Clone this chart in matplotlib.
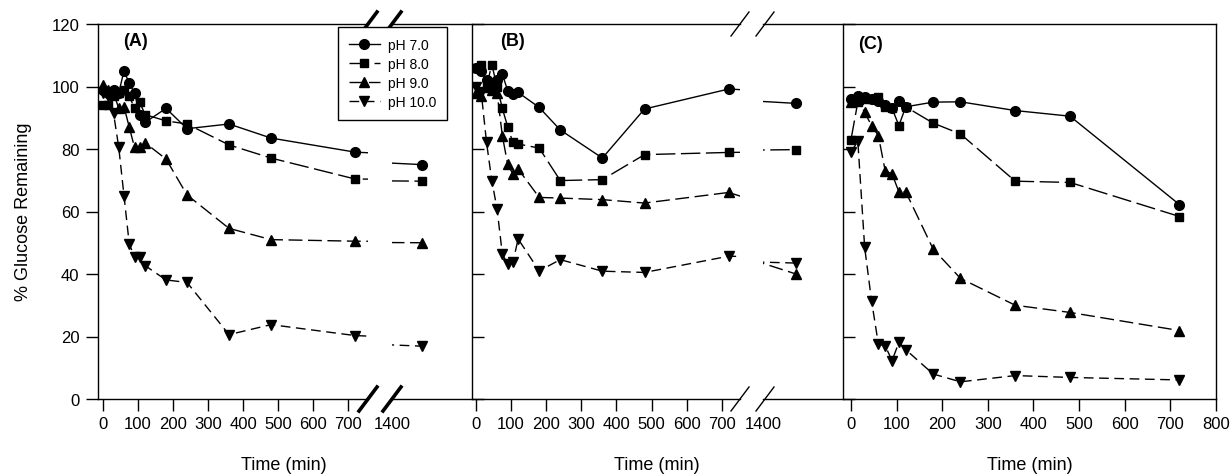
import matplotlib

matplotlib.use('Agg')
import matplotlib.pyplot as plt
from matplotlib.lines import Line2D

plt.rcParams['font.family'] = ['Liberation Sans', 'DejaVu Sans']

# 时间点 (min)
t_ab = [0, 15, 30, 45, 60, 75, 90, 105, 120, 180, 240, 360, 480, 720, 1440]
t_c = [0, 15, 30, 45, 60, 75, 90, 105, 120, 180, 240, 360, 480, 720]

labels = ['pH 7.0', 'pH 8.0', 'pH 9.0', 'pH 10.0']

# (A)
a_ph7 = [99, 98, 99, 98, 105, 101, 98, 91, 88.5, 93, 86.5, 88, 83.5, 79, 75]
a_ph8 = [94, 94, 97, 98, 99, 97, 93, 95, 91, 89, 88, 81.3, 77.1, 70.4, 69.7]
a_ph9 = [100.5, 99, 98, 93, 93.5, 87, 80.5, 80.5, 82, 76.8, 65.3, 54.6, 51, 50.5, 50]
a_ph10 = [98, 97, 91.5, 80.5, 65, 49.6, 45.5, 45.3, 42.7, 38.1, 37.3, 20.6, 23.8, 20.3, 16.9]

# (B)
b_ph7 = [106, 105, 102, 101, 102, 104, 98.7, 97.5, 98.1, 93.3, 86.1, 77.1, 92.8, 99.2, 94.6]
b_ph8 = [106, 107, 100, 107, 100, 93, 87.2, 82.1, 81.6, 80.3, 69.9, 70.2, 78.2, 78.9, 79.8]
b_ph9 = [98, 97, 100, 99, 98, 84.3, 75.2, 72, 73.6, 64.5, 64.3, 63.8, 62.7, 66.1, 40]
b_ph10 = [100, 98, 82.1, 69.9, 60.8, 46.4, 43.2, 43.7, 51.2, 41, 44.6, 40.9, 40.5, 45.7, 43.5]

# (C)
c_ph7 = [96, 97, 96.5, 96, 95.5, 94, 93, 95.5, 93.5, 95, 95.1, 92.3, 90.5, 62.2]
c_ph8 = [83, 95, 96, 96, 96.5, 93.3, 93, 87.5, 93.5, 88.3, 84.8, 69.7, 69.3, 58.4]
c_ph9 = [95, 96, 91.7, 87.5, 84.3, 73, 72, 66.3, 66.3, 48, 38.6, 30, 27.7, 21.9]
c_ph10 = [79, 82.5, 48.5, 31.5, 17.6, 17, 12.3, 18.1, 15.8, 8, 5.5, 7.5, 6.9, 6.1]

xticks_main = [0, 100, 200, 300, 400, 500, 600, 700]
xticks_c = [0, 100, 200, 300, 400, 500, 600, 700, 800]
yticks = [0, 20, 40, 60, 80, 100, 120]

styles = [
    dict(marker='o', ms=7, linestyle='-'),
    dict(marker='s', ms=6, dashes=(14, 4)),
    dict(marker='^', ms=7, dashes=(10, 4)),
    dict(marker='v', ms=7, dashes=(7, 4)),
]

W, H = 1231, 477
TICK_LEN = 8.5


def rect(x0, x1, y0=25, y1=400):
    """像素坐标 -> figure 坐标"""
    return [x0 / W, 1 - y1 / H, (x1 - x0) / W, (y1 - y0) / H]


def draw_series(ax, t, series):
    handles = []
    for vals, st, lab in zip(series, styles, labels):
        h, = ax.plot(t, vals, color='black', lw=1.0, mec='black', mfc='black',
                     label=lab, **st)
        handles.append(h)
    return handles


def style_axes(ax, xlim, left_dir=None, show_left=True, show_right=False):
    ax.set_xlim(*xlim)
    ax.set_ylim(0, 120)
    ax.spines['left'].set_visible(show_left)
    ax.spines['right'].set_visible(show_right)
    for s in ax.spines.values():
        s.set_linewidth(1.0)
    ax.tick_params(axis='x', direction='out', length=TICK_LEN, width=1.0,
                   pad=4, labelsize=12, top=False)
    if left_dir is None:
        ax.tick_params(axis='y', left=False, right=False, labelleft=False)
    else:
        ax.set_yticks(yticks)
        ax.tick_params(axis='y', direction=left_dir, length=TICK_LEN, width=1.0,
                       pad=5, labelsize=12, right=False)


def break_marks(x_px, lw):
    for y_px in (25, 400):
        fig.add_artist(Line2D([(x_px - 9) / W, (x_px + 9) / W],
                              [1 - (y_px + 12) / H, 1 - (y_px - 12) / H],
                              transform=fig.transFigure, color='black', lw=lw))


fig = plt.figure(figsize=(12.31, 4.77), dpi=100)

# ---- (A) ----
axA = fig.add_axes(rect(98, 368))
axA2 = fig.add_axes(rect(392, 471))
handles = draw_series(axA, t_ab, [a_ph7, a_ph8, a_ph9, a_ph10])
draw_series(axA2, t_ab, [a_ph7, a_ph8, a_ph9, a_ph10])
style_axes(axA, (-14.3, 757), left_dir='out')
axA.set_xticks(xticks_main)
style_axes(axA2, (1354, 1580), show_left=False)
axA2.set_xticks([1354])
axA2.set_xticklabels(['1400'])
axA2.tick_params(axis='x', length=0, pad=4 + TICK_LEN)
axA.text(0.093, 0.957, '(A)', transform=axA.transAxes, fontsize=13,
         fontweight='bold', va='center')

# ---- (B) ----
axB = fig.add_axes(rect(472, 740))
axB2 = fig.add_axes(rect(763, 842))
draw_series(axB, t_ab, [b_ph7, b_ph8, b_ph9, b_ph10])
draw_series(axB2, t_ab, [b_ph7, b_ph8, b_ph9, b_ph10])
style_axes(axB, (-11.4, 752), left_dir='in')
axB.set_yticklabels([])
axB.set_xticks(xticks_main)
style_axes(axB2, (1346, 1571), show_left=False)
axB2.set_xticks([1346])
axB2.set_xticklabels(['1400'])
axB2.tick_params(axis='x', length=0, pad=4 + TICK_LEN)
axB.text(0.104, 0.957, '(B)', transform=axB.transAxes, fontsize=13,
         fontweight='bold', va='center')

# ---- (C) ----
axC = fig.add_axes(rect(843, 1216))
draw_series(axC, t_c, [c_ph7, c_ph8, c_ph9, c_ph10])
style_axes(axC, (-17.5, 800), left_dir='in', show_right=True)
axC.set_yticklabels([])
axC.set_xticks(xticks_c)
axC.text(0.040, 0.947, '(C)', transform=axC.transAxes, fontsize=13,
         fontweight='bold', va='center')

# 断轴标记
break_marks(368, 2.6)
break_marks(392, 2.6)
break_marks(740, 1.0)
break_marks(765, 1.0)

# 坐标轴标题
fig.text(24 / W, 1 - 212 / H, '% Glucose Remaining', rotation=90,
         ha='center', va='center', fontsize=13)
for cx in (284, 657, 1030):
    fig.text(cx / W, 1 - 466 / H, 'Time (min)', ha='center', va='center',
             fontsize=13)

leg = fig.legend(handles=handles, loc='upper left',
                 bbox_to_anchor=(338 / W, 1 - 28 / H), borderaxespad=0,
                 fontsize=10, frameon=True, fancybox=False, framealpha=1,
                 edgecolor='black', handlelength=2.2, labelspacing=0.35,
                 borderpad=0.8, handletextpad=0.6)
leg.get_frame().set_linewidth(1.0)

fig.savefig('out.png', dpi=100)
